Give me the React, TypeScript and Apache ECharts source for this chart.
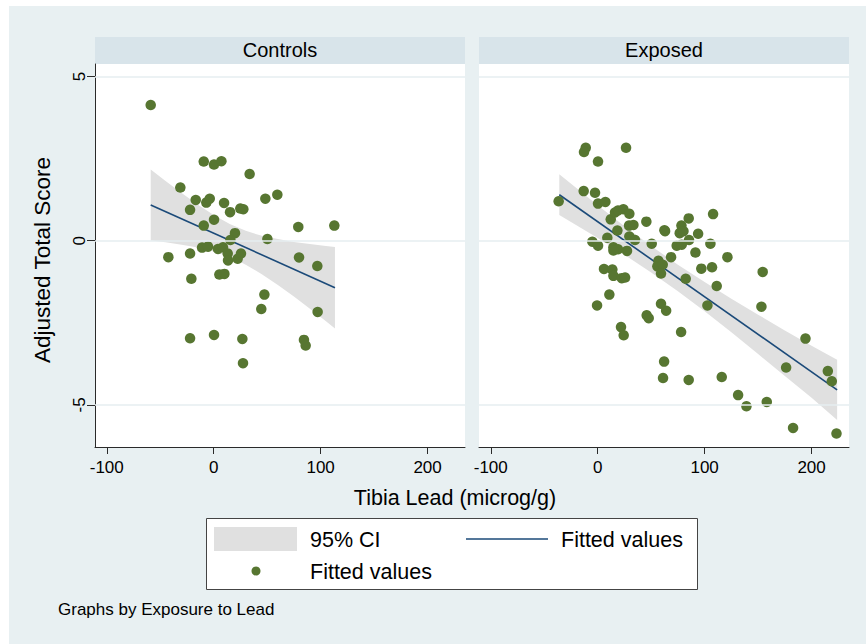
import React, { useEffect, useRef } from "react";
import * as echarts from "echarts";

// ---------- Data ----------
const panelTitles = ["Controls", "Exposed"];
const xTicks = [-100, 0, 100, 200];
const yTicks = [-5, 0, 5];

// Controls: tibia lead vs adjusted total score
const controlsX = [
  -58.9, -9.3, 0.3, 7.2, 33.6, -31.2, -16.8, -6.9, -3.7, 9.7, 48.3, 59.5, -22.1, 15.3, 24.9, 27.7,
  0.3, -9.3, 79.1, 112.8, 19.9, 15.6, 50.2, -42.4, -22.1, -10.9, -5.3, 4.0, 8.7, 13.1, 13.4, 22.4,
  25.5, 79.8, 96.9, -20.9, 5.3, 10.0, 47.4, 44.5, 97.2, -22.1, 0.3, 26.8, 84.4, 86.0, 27.4,
];
const controlsY = [
  4.13, 2.41, 2.32, 2.42, 2.03, 1.62, 1.24, 1.16, 1.28, 1.15, 1.28, 1.4, 0.94, 0.87, 0.98, 0.96,
  0.64, 0.46, 0.42, 0.46, 0.23, 0.02, 0.05, -0.5, -0.39, -0.21, -0.18, -0.25, -0.2, -0.39, -0.6, -0.55,
  -0.39, -0.51, -0.77, -1.16, -1.03, -1.01, -1.64, -2.08, -2.17, -2.97, -2.87, -2.99, -3.02, -3.19, -3.73,
];

// Exposed
const exposedX = [
  -36.5, -13.1, -11.2, -12.8, 0.3, 26.5, -2.5, 0.3, 7.2, 12.2, 16.2, 19.0, 24.0, 29.6, 18.4, 29.3,
  33.4, 45.5, 62.4, 63.0, 78.3, 85.1, 107.9, 76.7, 80.2, 93.9, 85.4, 9.0, 29.6, 34.9, -5.0, 0.3,
  50.5, 105.4, 14.7, 19.0, 14.7, 27.4, 73.9, 78.6, 91.4, 68.6, 121.3, 56.8, 55.8, 60.8, 59.2, 5.9,
  13.7, 14.7, 22.5, 25.6, 96.9, 106.9, 82.3, 111.3, 154.3, 10.9, -0.6, 59.2, 64.0, 102.6, 153.1, 45.8,
  47.7, 21.8, 24.3, 78.0, 194.3, 62.1, 61.1, 85.1, 116.0, 176.2, 215.2, 218.9, 131.3, 139.1, 158.1, 182.7,
  223.3,
];
const exposedY = [
  1.2, 1.51, 2.83, 2.7, 2.41, 2.83, 1.46, 1.13, 1.18, 0.65, 0.86, 0.92, 0.96, 0.82, 0.31, 0.46,
  0.48, 0.58, 0.32, 0.29, 0.46, 0.68, 0.81, 0.23, 0.29, 0.21, 0.02, 0.09, 0.13, 0.02, -0.03, -0.15,
  -0.09, -0.09, -0.2, -0.26, -0.3, -0.31, -0.15, -0.12, -0.36, -0.5, -0.5, -0.61, -0.78, -0.73, -1.0, -0.86,
  -0.88, -1.07, -1.14, -1.12, -0.85, -0.81, -1.16, -1.38, -0.95, -1.64, -1.97, -1.92, -2.13, -1.97, -2.01, -2.27,
  -2.36, -2.63, -2.88, -2.78, -2.98, -3.68, -4.18, -4.24, -4.15, -3.86, -3.97, -4.28, -4.7, -5.04, -4.91, -5.7,
  -5.87,
];

// Fitted lines (end points)
const controlsFitX = [-58.9, 113.4];
const controlsFitY = [1.09, -1.43];
const exposedFitX = [-35.9, 223.9];
const exposedFitY = [1.4, -4.54];

// 95% CI band edges
const controlsCiX = [-58.9, -45, -30, -15, 0, 15, 30, 45, 60, 75, 90, 105, 113.4];
const controlsCiUpper = [2.17, 1.82, 1.45, 1.1, 0.78, 0.51, 0.3, 0.15, 0.05, -0.04, -0.1, -0.16, -0.19];
const controlsCiLower = [0.01, -0.05, -0.12, -0.21, -0.33, -0.49, -0.73, -1.02, -1.35, -1.7, -2.07, -2.45, -2.67];
const exposedCiX = [-35.9, 0, 25, 50, 75, 100, 125, 150, 175, 200, 223.9];
const exposedCiUpper = [2.02, 1.08, 0.44, -0.16, -0.73, -1.26, -1.77, -2.25, -2.73, -3.2, -3.62];
const exposedCiLower = [0.78, 0.08, -0.43, -0.97, -1.54, -2.15, -2.79, -3.45, -4.12, -4.78, -5.46];

const xLabel = "Tibia Lead (microg/g)";
const yLabel = "Adjusted Total Score";
const legendCi = "95% CI";
const legendFit = "Fitted values";
const legendDots = "Fitted values";
const note = "Graphs by Exposure to Lead";

// ---------- Styles ----------
const FONT = 'Arial, "Liberation Sans", Helvetica, sans-serif';
const BG = "#e8f0f2";
const STRIP = "#d8e4ea";
const DOT = "#577631";
const LINE = "#1b4a79";
const CI = "#e0e0e0";
const GRIDLINE = "#e6eef1";
const AXIS = "#2a2a2a";

const X_MIN = -111;
const X_MAX = 235;
const Y_MIN = -6.28;
const Y_MAX = 5.38;

const panels = [
  { left: 95, width: 370, x: controlsX, y: controlsY, fx: controlsFitX, fy: controlsFitY, cx: controlsCiX, cu: controlsCiUpper, cl: controlsCiLower },
  { left: 479, width: 370, x: exposedX, y: exposedY, fx: exposedFitX, fy: exposedFitY, cx: exposedCiX, cu: exposedCiUpper, cl: exposedCiLower },
];
const PLOT_TOP = 64;
const PLOT_H = 383;
const STRIP_TOP = 37;
const STRIP_H = 27;

export default function App() {
  const ref = useRef<HTMLDivElement>(null);

  useEffect(() => {
    if (!ref.current) return;
    const chart = echarts.init(ref.current, undefined, { renderer: "svg" });

    const grids = panels.map((p) => ({ left: p.left, top: PLOT_TOP, width: p.width, height: PLOT_H, show: true, backgroundColor: "#ffffff", borderWidth: 0 }));

    const xAxes = panels.map((_, i) => ({
      type: "value",
      gridIndex: i,
      min: X_MIN,
      max: X_MAX,
      splitLine: { show: false },
      axisLine: { show: true, onZero: false, lineStyle: { color: AXIS, width: 1 } },
      axisTick: { show: true, length: 7, customValues: xTicks, lineStyle: { color: AXIS } },
      axisLabel: { show: true, customValues: xTicks, color: "#000", fontSize: 17, fontFamily: FONT, margin: 12 },
    }));

    const yAxes = panels.map((_, i) => ({
      type: "value",
      gridIndex: i,
      min: Y_MIN,
      max: Y_MAX,
      splitLine: { show: false },
      axisLine: { show: i === 0, onZero: false, lineStyle: { color: AXIS, width: 1 } },
      axisTick: { show: i === 0, length: 8, customValues: yTicks, lineStyle: { color: AXIS } },
      axisLabel: { show: i === 0, customValues: yTicks, rotate: 90, color: "#000", fontSize: 17, fontFamily: FONT, margin: 7 },
    }));

    const series: any[] = [];
    panels.forEach((p, i) => {
      series.push({
        type: "line",
        xAxisIndex: i,
        yAxisIndex: i,
        data: [],
        silent: true,
        z: 1,
        markLine: {
          silent: true,
          symbol: "none",
          label: { show: false },
          lineStyle: { color: GRIDLINE, width: 1.5, type: "solid" },
          data: yTicks.map((v) => ({ yAxis: v })),
        },
      });
      series.push({
        type: "custom",
        xAxisIndex: i,
        yAxisIndex: i,
        z: 2,
        silent: true,
        data: [[p.cx[0], p.cu[0]]],
        renderItem: (_params: any, api: any) => {
          const upper = p.cx.map((x, k) => api.coord([x, p.cu[k]]));
          const lower = p.cx.map((x, k) => api.coord([x, p.cl[k]])).reverse();
          return {
            type: "polygon",
            shape: { points: upper.concat(lower) },
            style: { fill: CI, stroke: null },
          };
        },
      });
      series.push({
        type: "line",
        xAxisIndex: i,
        yAxisIndex: i,
        z: 3,
        silent: true,
        symbol: "none",
        data: p.fx.map((x, k) => [x, p.fy[k]]),
        lineStyle: { color: LINE, width: 1.6 },
      });
      series.push({
        type: "scatter",
        xAxisIndex: i,
        yAxisIndex: i,
        z: 4,
        symbol: "circle",
        symbolSize: 10.5,
        data: p.x.map((x, k) => [x, p.y[k]]),
        itemStyle: { color: DOT, opacity: 1 },
      });
    });

    const graphic: any[] = [
      { type: "rect", z: -10, shape: { x: 9, y: 6, width: 857, height: 638 }, style: { fill: BG } },
    ];
    panels.forEach((p, i) => {
      graphic.push({ type: "rect", z: -5, shape: { x: p.left, y: STRIP_TOP, width: p.width, height: STRIP_H }, style: { fill: STRIP } });
      graphic.push({
        type: "text",
        x: p.left + p.width / 2,
        y: STRIP_TOP + STRIP_H / 2 - 1,
        style: { text: panelTitles[i], fill: "#000", font: `20px ${FONT}`, textAlign: "center", textVerticalAlign: "middle" },
      });
    });
    graphic.push({
      type: "text",
      x: 455,
      y: 498,
      style: { text: xLabel, fill: "#000", font: `21.5px ${FONT}`, textAlign: "center", textVerticalAlign: "middle" },
    });
    graphic.push({
      type: "text",
      x: 42,
      y: 260,
      rotation: Math.PI / 2,
      style: { text: yLabel, fill: "#000", font: `22.5px ${FONT}`, textAlign: "center", textVerticalAlign: "middle" },
    });
    // legend
    graphic.push({ type: "rect", shape: { x: 206.5, y: 518.5, width: 491, height: 71 }, style: { fill: "#ffffff", stroke: "#444", lineWidth: 1 } });
    graphic.push({ type: "rect", shape: { x: 214, y: 527, width: 83, height: 24 }, style: { fill: CI } });
    graphic.push({ type: "text", x: 310, y: 540, style: { text: legendCi, fill: "#000", font: `21.5px ${FONT}`, textAlign: "left", textVerticalAlign: "middle" } });
    graphic.push({ type: "line", shape: { x1: 466, y1: 539, x2: 548, y2: 539 }, style: { stroke: LINE, lineWidth: 1.6 } });
    graphic.push({ type: "text", x: 561, y: 540, style: { text: legendFit, fill: "#000", font: `21.5px ${FONT}`, textAlign: "left", textVerticalAlign: "middle" } });
    graphic.push({ type: "circle", shape: { cx: 256, cy: 571, r: 4.5 }, style: { fill: DOT } });
    graphic.push({ type: "text", x: 310, y: 572, style: { text: legendDots, fill: "#000", font: `21.5px ${FONT}`, textAlign: "left", textVerticalAlign: "middle" } });
    graphic.push({ type: "text", x: 58, y: 609, style: { text: note, fill: "#000", font: `17px ${FONT}`, textAlign: "left", textVerticalAlign: "middle" } });

    chart.setOption({
      animation: false,
      backgroundColor: "#ffffff",
      grid: grids,
      xAxis: xAxes,
      yAxis: yAxes,
      series,
      graphic,
    });

    return () => chart.dispose();
  }, []);

  return <div ref={ref} style={{ position: "fixed", left: 0, top: 0, width: 866, height: 644 }} />;
}
